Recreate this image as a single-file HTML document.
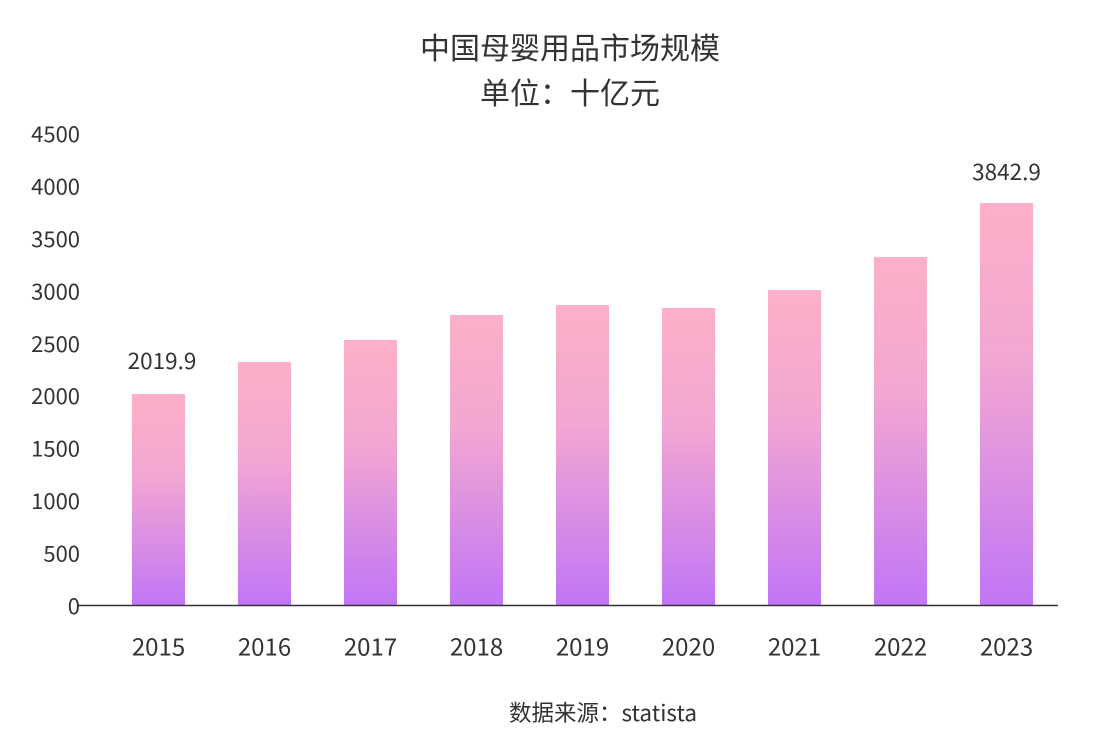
<!DOCTYPE html>
<html><head><meta charset="utf-8"><style>
html,body{margin:0;padding:0;background:#fff;}
text{font-family:"Noto Sans CJK SC","Liberation Sans",sans-serif;fill:#333;dominant-baseline:central;}
</style></head><body>
<svg width="1110" height="736" viewBox="0 0 1110 736" xmlns="http://www.w3.org/2000/svg">
<defs><linearGradient id="g" x1="0" y1="0" x2="0" y2="1">
<stop offset="0" stop-color="#fdb0c8"/><stop offset="0.4" stop-color="#f2a6d2"/><stop offset="1" stop-color="#c176f6"/></linearGradient></defs>
<text x="570" y="46" font-size="30" text-anchor="middle">中国母婴用品市场规模</text>
<text x="570" y="91" font-size="30" text-anchor="middle">单位：十亿元</text>
<g font-size="22" text-anchor="end">
<text x="80" y="605">0</text><text x="80" y="552.6">500</text><text x="80" y="500.1">1000</text>
<text x="80" y="447.7">1500</text><text x="80" y="395.2">2000</text><text x="80" y="342.8">2500</text>
<text x="80" y="290.3">3000</text><text x="80" y="237.9">3500</text><text x="80" y="185.4">4000</text>
<text x="80" y="133">4500</text></g>
<g fill="url(#g)">
<rect x="132" y="394" width="53" height="211"/>
<rect x="238" y="362" width="53" height="243"/>
<rect x="344" y="340" width="53" height="265"/>
<rect x="450" y="315" width="53" height="290"/>
<rect x="556" y="305" width="53" height="300"/>
<rect x="662" y="308" width="53" height="297"/>
<rect x="768" y="290" width="53" height="315"/>
<rect x="874" y="257" width="53" height="348"/>
<rect x="980" y="203" width="53" height="402"/>
</g>
<line x1="78" y1="605.5" x2="1058" y2="605.5" stroke="#333" stroke-width="1.5"/>
<g font-size="24" text-anchor="middle">
<text x="158.5" y="645">2015</text><text x="264.5" y="645">2016</text><text x="370.5" y="645">2017</text>
<text x="476.5" y="645">2018</text><text x="582.5" y="645">2019</text><text x="688.5" y="645">2020</text>
<text x="794.5" y="645">2021</text><text x="900.5" y="645">2022</text><text x="1006.5" y="645">2023</text>
</g>
<g font-size="22.5" text-anchor="middle">
<text x="162" y="360">2019.9</text><text x="1006.5" y="171">3842.9</text>
</g>
<text x="603" y="712" font-size="22.5" text-anchor="middle">数据来源：statista</text>
</svg>
</body></html>
